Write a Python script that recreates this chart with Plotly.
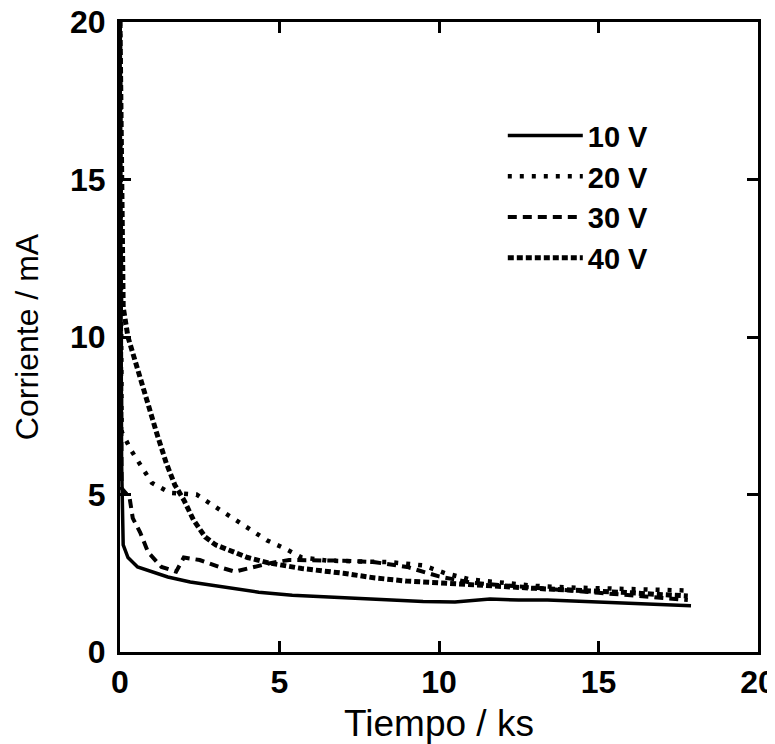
"""Corriente vs tiempo para distintos voltajes de anodizado."""

import plotly.graph_objects as go

FONT = "Liberation Sans, Arial, sans-serif"

# 10 V
t_10v = [0, 0.05, 0.1, 0.25, 0.55, 1.0, 1.5, 2.2, 3.3, 4.35, 5.4, 6.5, 7.6, 8.5,
         9.5, 10.5, 11.6, 12.5, 13.4, 14.2, 14.9, 16.0, 17.0, 17.9]
i_10v = [20, 6.0, 3.4, 3.0, 2.7, 2.55, 2.38, 2.22, 2.06, 1.9, 1.8, 1.75, 1.71, 1.66,
         1.6, 1.59, 1.68, 1.65, 1.65, 1.62, 1.59, 1.55, 1.52, 1.47]

# 20 V
t_20v = [0, 0.05, 0.35, 0.67, 1.0, 1.57, 2.4, 3.0, 3.45, 4.1, 4.6, 5.2, 5.7, 6.5,
         7.5, 8.5, 9.5, 10.2, 11.0, 12.0, 13.0, 14.0, 15.0, 16.0, 17.0, 17.8]
i_20v = [20, 7.0, 6.4, 5.9, 5.37, 5.05, 5.0, 4.6, 4.3, 3.9, 3.55, 3.27, 3.0, 2.9,
         2.88, 2.85, 2.75, 2.5, 2.3, 2.2, 2.1, 2.05, 2.03, 2.02, 2.0, 1.95]

# 30 V
t_30v = [0, 0.05, 0.3, 0.4, 0.63, 0.88, 1.3, 1.76, 2.0, 2.5, 3.1, 3.6, 4.2, 4.75,
         5.3, 6.0, 7.0, 8.0, 9.0, 10.0, 11.0, 12.0, 13.0, 14.0, 15.0, 16.0, 17.0, 17.8]
i_30v = [20, 5.2, 4.9, 4.25, 3.8, 3.17, 2.7, 2.55, 3.0, 2.92, 2.7, 2.55, 2.7, 2.83,
         2.92, 2.92, 2.9, 2.85, 2.7, 2.4, 2.2, 2.12, 2.05, 1.95, 1.88, 1.8, 1.72, 1.65]

# 40 V
t_40v = [0, 0.1, 0.25, 0.5, 0.67, 0.9, 1.15, 1.45, 1.72, 2.0, 2.3, 2.67, 3.0, 3.4,
         4.0, 4.65, 5.7, 7.0, 8.0, 9.0, 10.0, 11.0, 12.0, 13.0, 14.0, 15.0, 16.0, 17.0, 17.8]
i_40v = [20, 10.95, 10.0, 9.2, 8.6, 7.8, 6.95, 6.0, 5.3, 4.83, 4.2, 3.65, 3.4, 3.24,
         3.0, 2.83, 2.65, 2.5, 2.35, 2.25, 2.18, 2.12, 2.08, 2.02, 1.98, 1.92, 1.88, 1.82, 1.78]

series = [
    ("10 V", t_10v, i_10v, "solid", 3.5),
    ("20 V", t_20v, i_20v, "4px,8px", 4.5),
    ("30 V", t_30v, i_30v, "9px,6px", 4),
    ("40 V", t_40v, i_40v, "6px,3px", 5),
]

fig = go.Figure()
for name, t, i, dash, width in series:
    fig.add_trace(
        go.Scatter(
            x=t,
            y=i,
            mode="lines",
            name=name,
            line=dict(color="black", width=width, dash=dash),
        )
    )

axis_style = dict(
    range=[0, 20],
    tickvals=[0, 5, 10, 15, 20],
    ticks="inside",
    ticklen=11,
    tickwidth=3,
    tickcolor="black",
    showline=True,
    linewidth=3,
    linecolor="black",
    mirror="ticks",
    showgrid=False,
    zeroline=False,
    ticklabeloverflow="allow",
    tickfont=dict(family=FONT, size=32, color="black", weight="bold"),
)

fig.update_xaxes(
    **axis_style,
    automargin=False,
    title=dict(text="Tiempo / ks", font=dict(family=FONT, size=37, color="black")),
)
fig.update_yaxes(
    **axis_style,
    automargin="left",
    ticklabelstandoff=5,
    title=dict(text="Corriente / mA", font=dict(family=FONT, size=32, color="black"), standoff=22),
)

# the page puts the figure 8px in from the top-left corner
fig.update_layout(
    width=767,
    height=736,
    margin=dict(l=112, r=17, t=14, b=92),
    paper_bgcolor="white",
    plot_bgcolor="white",
    showlegend=True,
    legend=dict(
        x=0.6,
        y=0.86,
        xanchor="left",
        yanchor="top",
        bgcolor="rgba(0,0,0,0)",
        itemwidth=75,
        tracegroupgap=0,
        font=dict(family=FONT, size=29, color="black", weight="bold"),
    ),
)

fig.write_html("out.html")
